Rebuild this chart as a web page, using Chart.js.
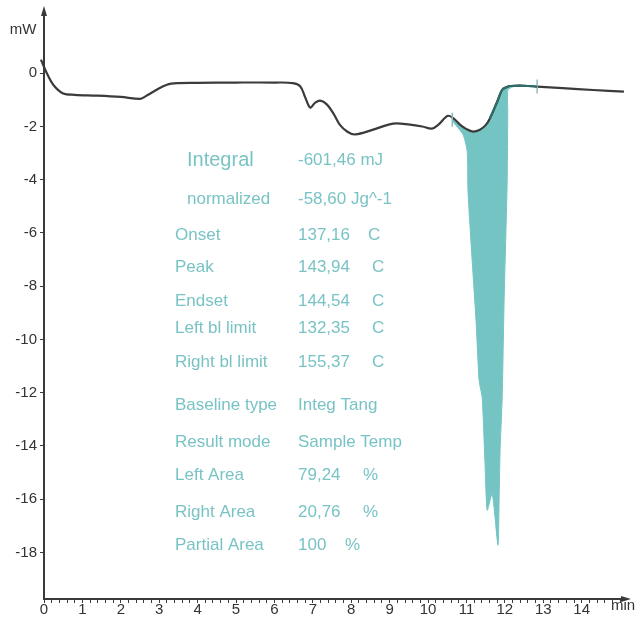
<!DOCTYPE html>
<html>
<head>
<meta charset="utf-8">
<script src="https://cdn.jsdelivr.net/npm/chart.js@4/dist/chart.umd.min.js"></script>
<style>
  body { margin: 0; background: #fff; }
  #wrap { width: 638px; height: 626px; }
</style>
</head>
<body>
<div id="wrap"><canvas id="myChart"></canvas></div>
<script>
// DSC curve (time in min, heat flow in mW)
const curveT  = [-0.08, 0.08, 0.25, 0.5, 0.8, 1.38, 2.0, 2.5, 2.63, 2.9, 3.2, 3.5, 3.98, 5.0, 6.0, 6.48, 6.67, 6.8, 6.93, 7.05, 7.19, 7.37, 7.55, 7.7, 7.9, 8.1, 8.57, 9.09, 9.53, 9.85, 10.1, 10.27, 10.52, 10.7, 10.83, 11.0, 11.17, 11.35, 11.5, 11.61, 11.8, 11.93, 12.05, 12.14, 12.5, 12.84, 13.5, 14.3, 15.1];
const curveMw = [0.51, -0.02, -0.45, -0.76, -0.81, -0.84, -0.89, -0.96, -0.88, -0.65, -0.43, -0.37, -0.36, -0.35, -0.35, -0.37, -0.49, -0.9, -1.29, -1.12, -1.03, -1.18, -1.55, -1.93, -2.2, -2.3, -2.12, -1.89, -1.93, -2.0, -2.08, -1.93, -1.6, -1.74, -1.93, -2.1, -2.19, -2.12, -1.95, -1.7, -1.07, -0.62, -0.52, -0.48, -0.47, -0.5, -0.56, -0.63, -0.69];

// integrated peak (filled against the curve)
const peakT  = [10.63, 10.91, 11.02, 11.04, 11.15, 11.25, 11.33, 11.41, 11.48, 11.54, 11.67, 11.82, 11.85, 11.875, 11.93, 11.98, 12.06, 12.075, 12.08, 12.27, 12.84];
const peakMw = [-1.8, -2.3, -2.94, -4.44, -7.06, -9.31, -11.55, -12.19, -14.55, -16.42, -15.79, -17.73, -16.05, -14.18, -12.19, -8.56, -4.06, -1.44, -0.62, -0.49, -0.5];

// baseline limit markers
const limitT  = [10.63, 12.84];
const limitMw = [-1.75, -0.5];

const xLabels = [0, 1, 2, 3, 4, 5, 6, 7, 8, 9, 10, 11, 12, 13, 14];
const yTicks  = [0, -2, -4, -6, -8, -10, -12, -14, -16, -18];

// result table
const resLabels = ["Integral", "normalized", "Onset", "Peak", "Endset", "Left bl limit", "Right bl limit",
                   "Baseline type", "Result mode", "Left Area", "Right Area", "Partial Area"];
const resValues = ["-601,46 mJ", "-58,60 Jg^-1", "137,16", "143,94", "144,54", "132,35", "155,37",
                   "Integ Tang", "Sample Temp", "79,24", "20,76", "100"];
const resUnits  = ["", "", "C", "C", "C", "C", "C", "", "", "%", "%", "%"];

const toXY = (xs, ys) => xs.map((x, i) => ({ x: x, y: ys[i] }));

const teal = '#74c4c4';
const textTeal = '#79c3c5';
const axisColor = '#3a3a3a';

// the part of the curve that lies on the peak edge is drawn darker
const curvePts = toXY(curveT, curveMw);
const edgePts = curvePts.filter(p => p.x >= 11.61 && p.x <= 12.84);

const annotations = {
    id: 'annotations',
    afterDraw(chart) {
        const ctx = chart.ctx;
        const a = chart.chartArea;
        ctx.save();
        // axis arrows
        ctx.fillStyle = axisColor;
        ctx.beginPath();
        ctx.moveTo(a.left, a.top - 6);
        ctx.lineTo(a.left - 3, a.top + 4);
        ctx.lineTo(a.left + 3, a.top + 4);
        ctx.closePath();
        ctx.fill();
        ctx.beginPath();
        ctx.moveTo(a.right + 4, a.bottom);
        ctx.lineTo(a.right - 6, a.bottom - 3);
        ctx.lineTo(a.right - 6, a.bottom + 3);
        ctx.closePath();
        ctx.fill();

        // axis units
        ctx.fillStyle = '#333';
        ctx.font = '15px "Liberation Sans", Arial, sans-serif';
        ctx.textAlign = 'center';
        ctx.textBaseline = 'middle';
        ctx.fillText('mW', 23, 30);
        ctx.fillText('min', 623, 606);

        // result block
        const rowY = [160, 199, 235, 267, 301, 328, 362, 405, 442, 475, 512, 545];
        const unitX = [0, 0, 368, 372, 372, 372, 372, 0, 0, 363, 363, 345];
        ctx.fillStyle = textTeal;
        ctx.textAlign = 'left';
        resLabels.forEach((lab, i) => {
            const x = i < 2 ? 187 : 175;
            ctx.font = (i === 0 ? '20px' : '17px') + ' "Liberation Sans", Arial, sans-serif';
            ctx.fillText(lab, x, rowY[i]);
            ctx.font = '17px "Liberation Sans", Arial, sans-serif';
            ctx.fillText(resValues[i], 298, rowY[i]);
            if (resUnits[i]) ctx.fillText(resUnits[i], unitX[i], rowY[i]);
        });
        ctx.restore();
    }
};

const xTickValues = [];
for (let i = 0; i <= 75; i++) xTickValues.push(i / 5);

const config = {
    type: 'line',
    data: {
        datasets: [{
            data: curvePts,
            borderColor: '#3b3b3b',
            borderWidth: 2.2,
            pointRadius: 0,
            tension: 0.35,
            fill: false,
            clip: false,
            order: 1
        }, {
            data: toXY(peakT, peakMw),
            borderColor: teal,
            borderWidth: 1,
            backgroundColor: teal,
            pointRadius: 0,
            tension: 0.2,
            fill: { target: 0 },
            order: 2
        }, {
            data: edgePts,
            borderColor: '#2f6d69',
            borderWidth: 2.2,
            pointRadius: 0,
            tension: 0.35,
            fill: false,
            order: 0
        }, {
            type: 'scatter',
            data: toXY(limitT, limitMw),
            pointStyle: 'line',
            rotation: 90,
            pointRadius: 7,
            borderColor: '#8fbdbd',
            borderWidth: 1.5,
            showLine: false,
            order: 0
        }]
    },
    options: {
        responsive: true,
        maintainAspectRatio: false,
        animation: false,
        layout: { padding: { top: 10, right: 11, left: 0, bottom: 0 } },
        scales: {
            x: {
                type: 'linear',
                min: 0,
                max: 15.18,
                afterBuildTicks: scale => { scale.ticks = xTickValues.map(v => ({ value: v })); },
                afterFit: scale => { scale.height = 27; },
                grid: { drawOnChartArea: false, drawTicks: true, tickLength: 4, color: axisColor },
                border: { display: true, color: axisColor, width: 2 },
                ticks: {
                    autoSkip: false,
                    maxRotation: 0,
                    padding: -2,
                    color: '#333',
                    font: { family: '"Liberation Sans", Arial, sans-serif', size: 15 },
                    callback: v => xLabels.includes(v) ? String(v) : ''
                }
            },
            y: {
                min: -19.75,
                max: 2.3,
                afterBuildTicks: scale => { scale.ticks = yTicks.map(v => ({ value: v })); },
                afterFit: scale => { scale.width = 44; },
                grid: { drawOnChartArea: false, drawTicks: true, tickLength: 4, color: axisColor },
                border: { display: true, color: axisColor, width: 2 },
                ticks: {
                    autoSkip: false,
                    padding: 3,
                    color: '#333',
                    font: { family: '"Liberation Sans", Arial, sans-serif', size: 15 }
                }
            }
        },
        plugins: {
            legend: { display: false },
            tooltip: { enabled: false }
        }
    },
    plugins: [annotations]
};

const myChart = new Chart(document.getElementById('myChart'), config);
</script>
</body>
</html>
